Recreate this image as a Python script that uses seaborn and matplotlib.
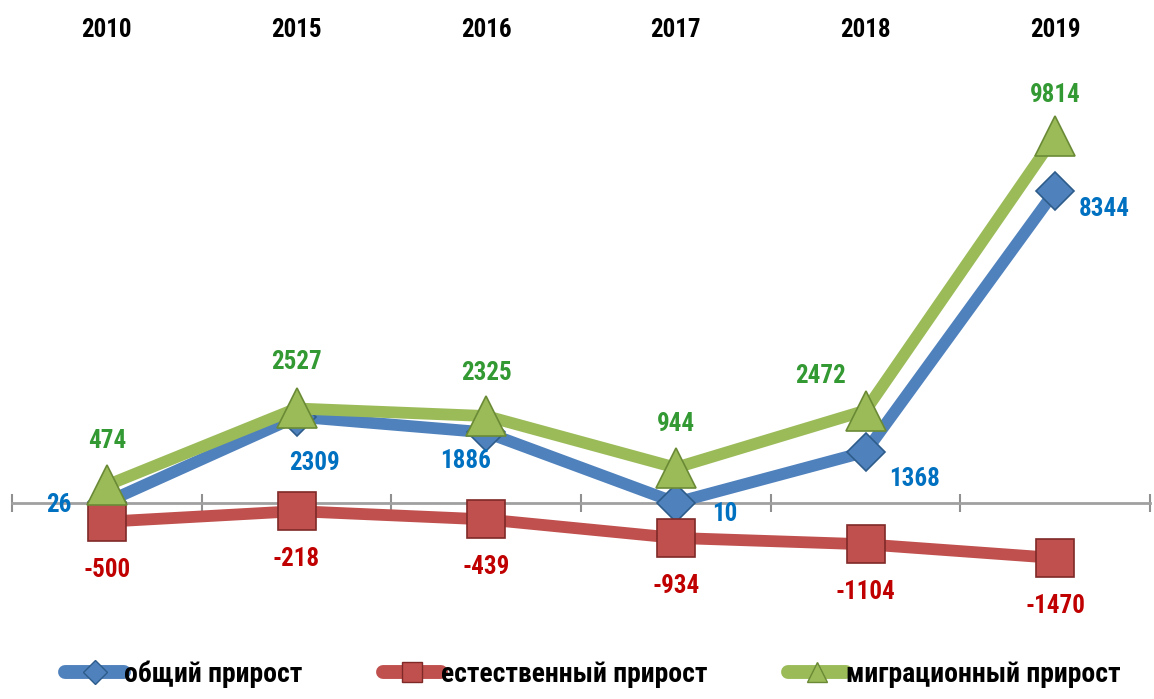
import matplotlib
matplotlib.use("Agg")
import matplotlib.pyplot as plt
from matplotlib import font_manager
from matplotlib.lines import Line2D
import numpy as np
import pandas as pd
import seaborn as sns

# data
years = ["2010", "2015", "2016", "2017", "2018", "2019"]
total_growth = [26, 2309, 1886, 10, 1368, 8344]        # общий прирост
natural_growth = [-500, -218, -439, -934, -1104, -1470]  # естественный прирост
migration_growth = [474, 2527, 2325, 944, 2472, 9814]   # миграционный прирост

series_names = ["общий прирост", "естественный прирост", "миграционный прирост"]

# label offsets in pixels (dx right, dy down) relative to the point
off_total = [(-48, 3), (18, 46), (-21, 29), (49, 11), (49, 27), (49, 18)]
off_natural = [(0, 48)] * 6
off_migration = [(0, -44), (0, -46), (0, -43), (0, -44), (-45, -35), (0, -41)]

sns.set_theme(style="white")

# narrow font like in the original
installed = {f.name for f in font_manager.fontManager.ttflist}
narrow = [n for n in ["Roboto Condensed", "Liberation Sans Narrow", "DejaVu Sans Condensed",
                      "Roboto"] if n in installed]
plt.rcParams["font.family"] = narrow[:1] + ["DejaVu Sans"]
plt.rcParams["font.weight"] = "bold"
plt.rcParams["text.color"] = "black"

W, H = 1154, 699
fig = plt.figure(figsize=(W / 100, H / 100), dpi=100)

# axes box in pixels
left, right, top, bottom = 12, 1150, 45, 640
ax = fig.add_axes([left / W, 1 - bottom / H, (right - left) / W, (bottom - top) / H])

zero_px = 503
px_per_unit = 0.0374
ax.set_xlim(-0.5, 5.5)
ax.set_ylim((zero_px - bottom) / px_per_unit, (zero_px - top) / px_per_unit)

x = np.arange(len(years))
df = pd.DataFrame({"x": x, "total": total_growth, "natural": natural_growth,
                   "migration": migration_growth})

styles = [
    ("total", "#4F81BD", "D", 19, "#2E5C8A", "#0070C0", off_total),
    ("natural", "#C0504D", "s", 28, "#7F2A28", "#C00000", off_natural),
    ("migration", "#9BBB59", "^", 29, "#6A8A35", "#339933", off_migration),
]

for col, color, marker, ms, edge, tcolor, offs in styles:
    sns.lineplot(data=df, x="x", y=col, ax=ax, color=color, linewidth=8.5,
                 marker=marker, markersize=ms, markerfacecolor=color,
                 markeredgecolor=edge, markeredgewidth=1.2, zorder=3)
    for xi, v, (dx, dy) in zip(x, df[col], offs):
        ax.annotate(f"{v}", (xi, v), xytext=(dx * 0.72, -dy * 0.72),
                    textcoords="offset points", ha="center", va="center",
                    fontsize=18, fontweight="bold", color=tcolor, zorder=5)

# horizontal axis at zero with tick marks between categories
for s in ["top", "left", "right"]:
    ax.spines[s].set_visible(False)
ax.spines["bottom"].set_position(("data", 0))
ax.spines["bottom"].set_color("#A0A0A0")
ax.spines["bottom"].set_linewidth(2)
ax.spines["bottom"].set_zorder(1)
ax.set_yticks([])
ax.set_xticks(x, years)
ax.set_xticks(np.arange(-0.5, 6, 1), minor=True)
ax.tick_params(axis="x", which="major", bottom=False, top=False,
               labelbottom=False, labeltop=True, pad=-4, labelsize=18,
               labelcolor="black")
ax.tick_params(axis="x", which="minor", bottom=True, direction="inout",
               length=13, width=1.5, color="#909090")
for lab in ax.get_xticklabels():
    lab.set_fontweight("bold")
ax.set_xlabel("")
ax.set_ylabel("")

handles = [
    Line2D([], [], color="#4F81BD", lw=10, marker="D", ms=12, markerfacecolor="#4F81BD",
           markeredgecolor="#2E5C8A", solid_capstyle="round"),
    Line2D([], [], color="#C0504D", lw=10, marker="s", ms=15, markerfacecolor="#C0504D",
           markeredgecolor="#7F2A28", solid_capstyle="round"),
    Line2D([], [], color="#9BBB59", lw=10, marker="^", ms=15, markerfacecolor="#9BBB59",
           markeredgecolor="#6A8A35", solid_capstyle="round"),
]
fig.legend(handles, series_names, loc="lower center", bbox_to_anchor=(0.514, -0.012),
           ncol=3, frameon=False, handlelength=2.1, handletextpad=0.0,
           columnspacing=2.9, borderpad=0.2, prop={"size": 20, "weight": "bold"})

fig.savefig("out.png", dpi=100)
